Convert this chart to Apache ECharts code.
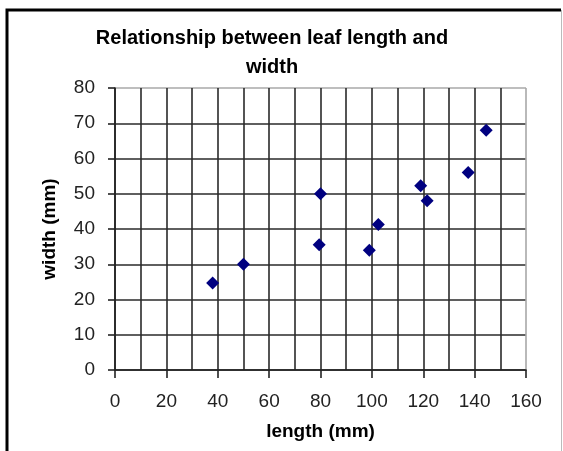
<!DOCTYPE html>
<html>
<head>
<meta charset="utf-8">
<title>Relationship between leaf length and width</title>
<script src="https://cdn.jsdelivr.net/npm/echarts@6/dist/echarts.min.js"></script>
<style>
    html, body { margin: 0; padding: 0; background: #fff; }
    #chart { width: 563px; height: 451px; }
</style>
</head>
<body>
<div id="chart"></div>
<script>
// Leaf measurements (mm)
const leafLength = [38, 50, 79.5, 80, 99, 102.5, 119, 121.5, 137.5, 144.5];
const leafWidth  = [24.7, 30, 35.5, 50, 34, 41.3, 52.3, 48, 56, 68];

const xTicks = [0, 20, 40, 60, 80, 100, 120, 140, 160];
const yTicks = [0, 10, 20, 30, 40, 50, 60, 70, 80];

const points = leafLength.map((x, i) => [x, leafWidth[i]]);

const font = '"Liberation Sans", Arial, sans-serif';
const gridDark = '#2a2a2a';
const gridLight = '#a8a8a8';

// last split line of each axis is the light plot border
const xLineColors = xTicks.map((t, i) => i === xTicks.length - 1 ? gridLight : gridDark);
const yLineColors = yTicks.map((t, i) => i === yTicks.length - 1 ? gridLight : gridDark);

const chart = echarts.init(document.getElementById('chart'));

chart.setOption({
    animation: false,
    backgroundColor: '#fff',
    title: {
        text: 'Relationship between leaf length and\nwidth',
        left: 267,
        top: 19,
        textAlign: 'center',
        textStyle: {
            fontFamily: font,
            fontSize: 20,
            fontWeight: 'bold',
            color: '#000',
            lineHeight: 29
        }
    },
    grid: {
        left: 115,
        right: 37,
        top: 88,
        bottom: 81
    },
    xAxis: {
        type: 'value',
        min: xTicks[0],
        max: xTicks[xTicks.length - 1],
        interval: 20,
        name: 'length (mm)',
        nameLocation: 'middle',
        nameGap: 52,
        nameTextStyle: {
            fontFamily: font,
            fontSize: 19,
            fontWeight: 'bold',
            color: '#000'
        },
        axisLine: { show: true, onZero: false, lineStyle: { color: '#222', width: 1.6 } },
        axisTick: { show: true, length: 8, lineStyle: { color: '#222', width: 1.6 } },
        minorTick: { show: false, splitNumber: 2 },
        axisLabel: {
            margin: 22,
            fontFamily: font,
            fontSize: 19,
            color: '#222'
        },
        splitLine: { show: true, lineStyle: { color: xLineColors, width: 1.6 } },
        minorSplitLine: { show: true, lineStyle: { color: gridDark, width: 1.6 } }
    },
    yAxis: {
        type: 'value',
        min: yTicks[0],
        max: yTicks[yTicks.length - 1],
        interval: 10,
        name: 'width (mm)',
        nameLocation: 'middle',
        nameGap: 56,
        nameTextStyle: {
            fontFamily: font,
            fontSize: 19,
            fontWeight: 'bold',
            color: '#000'
        },
        axisLine: { show: true, onZero: false, lineStyle: { color: '#222', width: 1.6 } },
        axisTick: { show: true, length: 7, lineStyle: { color: '#222', width: 1.6 } },
        axisLabel: {
            margin: 20,
            fontFamily: font,
            fontSize: 19,
            color: '#222'
        },
        splitLine: { show: true, lineStyle: { color: yLineColors, width: 1.6 } }
    },
    series: [{
        name: 'leaves',
        type: 'scatter',
        data: points,
        symbol: 'diamond',
        symbolSize: 13,
        itemStyle: { color: '#000080', opacity: 1 }
    }],
    graphic: [
        // outer chart frame: heavy left/top edges, thin right edge
        {
            type: 'polyline',
            shape: { points: [[7, 451], [7, 10], [561, 10]] },
            style: { stroke: '#000', lineWidth: 3, fill: null }
        },
        {
            type: 'line',
            shape: { x1: 561.5, y1: 10, x2: 561.5, y2: 451 },
            style: { stroke: '#bbb', lineWidth: 1 }
        }
    ]
});
</script>
</body>
</html>
